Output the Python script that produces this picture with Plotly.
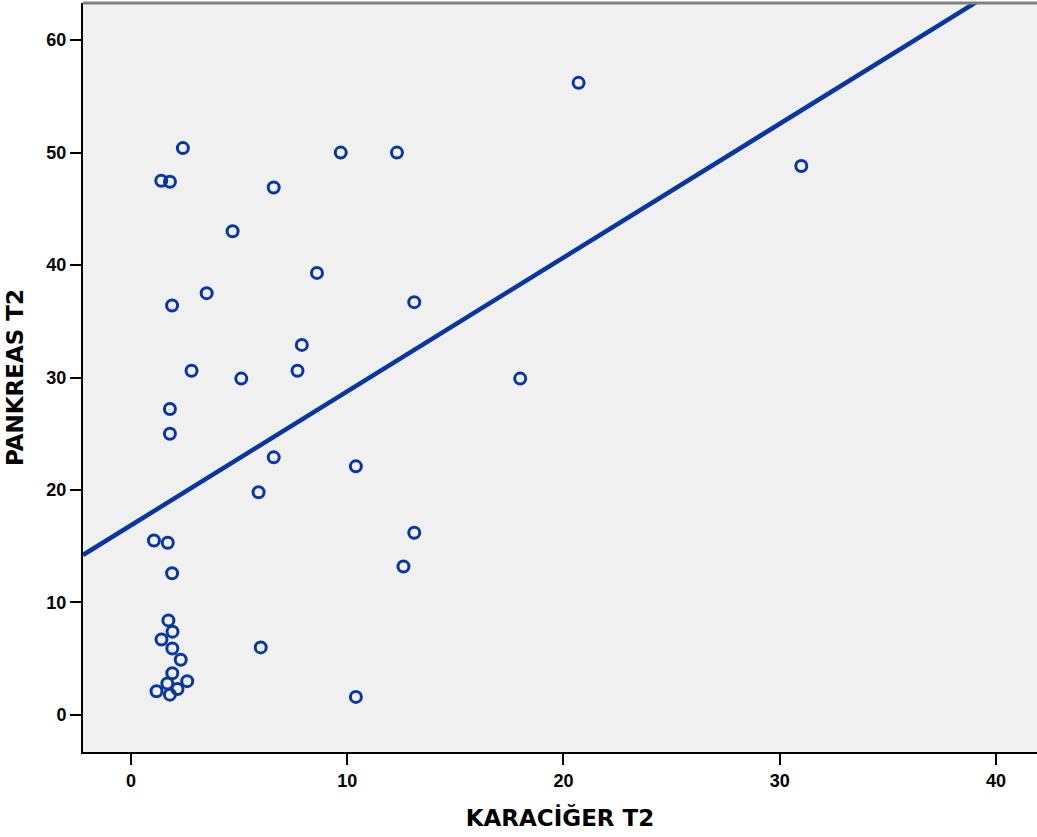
import plotly.graph_objects as go
import numpy as np

karaciger_t2 = [2.4, 1.4, 1.8, 4.7, 6.6, 9.7, 12.3, 20.7, 31.0, 8.6, 3.5, 1.9, 13.1, 7.9,
                2.8, 5.1, 7.7, 18.0, 1.8, 1.8, 6.6, 10.4, 5.9, 1.06, 1.7, 13.1, 12.6, 1.9,
                1.73, 1.92, 1.41, 1.91, 2.3, 6.0, 1.91, 2.6, 1.68, 2.15, 1.18, 1.8, 10.4]
pankreas_t2 = [50.4, 47.5, 47.4, 43.0, 46.9, 50.0, 50.0, 56.2, 48.8, 39.3, 37.5, 36.4, 36.7, 32.9,
               30.6, 29.9, 30.6, 29.9, 27.2, 25.0, 22.9, 22.1, 19.8, 15.5, 15.3, 16.2, 13.2, 12.6,
               8.4, 7.4, 6.7, 5.9, 4.9, 6.0, 3.7, 3.0, 2.8, 2.3, 2.1, 1.8, 1.6]

fit_intercept = 16.86
fit_slope = 1.19

x_range = [-2.22, 41.9]
y_range = [-3.3, 63.3]
x_ticks = [0, 10, 20, 30, 40]
y_ticks = [0, 10, 20, 30, 40, 50, 60]

blue = "#0a36a0"
tick_font = "Arial, Liberation Sans, sans-serif"
title_font = "DejaVu Sans, Verdana, sans-serif"

fig = go.Figure()
fig.add_trace(go.Scatter(
    x=karaciger_t2, y=pankreas_t2, mode="markers",
    marker=dict(symbol="circle-open", size=11, color=blue, line=dict(width=3, color=blue)),
    showlegend=False, cliponaxis=False,
))
fx = np.array(x_range)
fig.add_trace(go.Scatter(
    x=fx, y=fit_intercept + fit_slope * fx, mode="lines",
    line=dict(color=blue, width=4.5), showlegend=False,
))

axis_common = dict(
    showgrid=False, zeroline=False,
    showline=True, linecolor="black", linewidth=2,
    ticks="outside", ticklen=11, tickwidth=2, tickcolor="black",
    tickfont=dict(size=18, family=tick_font, weight="bold", color="black"),
)

fig.update_layout(
    width=1037, height=837,
    margin=dict(l=83, r=0, t=3, b=85),
    paper_bgcolor="white", plot_bgcolor="#f0f0f0",
    font=dict(family=tick_font, color="black"),
    xaxis=dict(
        range=x_range, tickvals=x_ticks, **axis_common,
        title=dict(text="<b>KARACİĞER T2</b>",
                   font=dict(size=23, family=title_font, color="black"), standoff=20),
    ),
    yaxis=dict(
        range=y_range, tickvals=y_ticks, **axis_common,
        title=dict(text="<b>PANKREAS T2</b>",
                   font=dict(size=23, family=title_font, color="black"), standoff=16),
    ),
    shapes=[dict(type="line", xref="paper", yref="paper", x0=0, x1=1, y0=1, y1=1,
                 line=dict(color="#808080", width=3))],
)

fig.write_html(
    "out.html",
    config={"displayModeBar": False},
    post_script="document.body.style.margin='0';document.body.style.overflow='hidden';",
)
